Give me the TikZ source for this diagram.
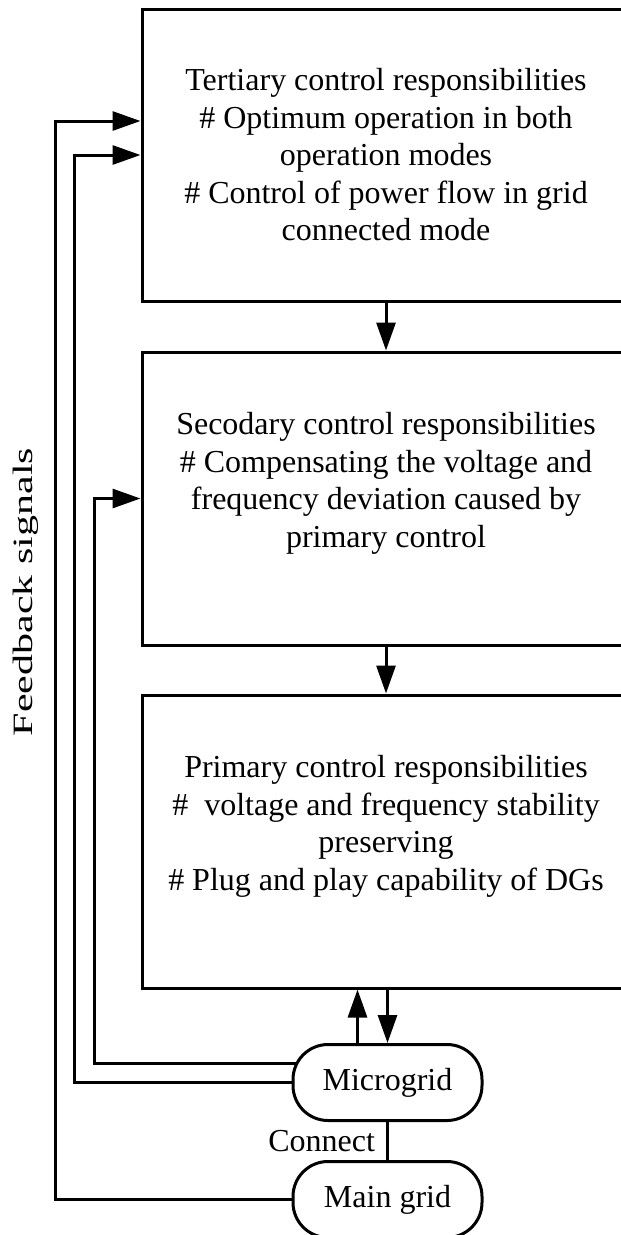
\documentclass[tikz,border=0pt]{standalone}
\usepackage{fontspec}
\usepackage{graphicx}
\setmainfont{Liberation Serif}
\usetikzlibrary{arrows.meta,calc}

\tikzset{
  every node/.style={font=\fontsize{32}{37.5}\selectfont},
  stage/.style={draw, line width=3pt, minimum width=488pt, minimum height=293pt,
    align=center, inner sep=0pt},
  pill/.style={draw, line width=3pt, rounded corners=35pt, minimum width=189pt,
    minimum height=76pt, inner sep=0pt},
  wire/.style={line width=3pt},
  arr/.style={wire, -{Triangle[length=28pt,width=19pt]}},
}

\begin{document}
\begin{tikzpicture}[x=1pt,y=-1pt]
  \useasboundingbox (0,0) rectangle (621,1235);
  \clip (0,0) rectangle (621,1235);

  % control layers
  \node[stage, minimum height=292pt] (tert) at (386,155) {Tertiary control responsibilities\\
    \# Optimum operation in both\\ operation modes\\
    \# Control of power flow in grid\\ connected mode};
  \node[stage] (sec) at (386,498.5) {Secodary control responsibilities\\
    \# Compensating the voltage and\\ frequency deviation caused by\\
    primary control\\ \mbox{}};
  \node[stage] (prim) at (386,841.5) {Primary control responsibilities\\
    \#~ voltage and frequency stability\\ preserving\\
    \# Plug and play capability of DGs\\ \mbox{}};

  % plant
  \node[pill] (micro) at (387.5,1082.5) {Microgrid};
  \node[pill] (main) at (387.5,1199.5) {Main grid};

  % downward command flow
  \draw[arr] (tert.south) -- (sec.north);
  \draw[arr] (sec.south) -- (prim.north);
  \draw[arr] (prim.south -| micro.north) -- (micro.north);
  \coordinate (upfoot) at ($(micro.north)+(-30,0)$);
  \draw[arr] (upfoot) -- (upfoot |- prim.south);

  % grid connection
  \draw[wire] (micro.south) -- node[left=11pt, inner sep=0pt] {Connect} (main.north);

  % feedback paths
  \coordinate (colA) at (94,0);
  \coordinate (colB) at (74,0);
  \coordinate (colC) at (55,0);
  \coordinate (fbA) at ($(micro.west)+(5,-19.5)$);
  \coordinate (tertA) at ($(tert.west)+(0,-34)$);
  \draw[arr] (fbA) -| (colA |- sec.west) -- (sec.west);
  \draw[arr] (micro.west) -| (colB |- tert.west) -- (tert.west);
  \draw[arr] (main.west) -| (colC |- tertA) -- (tertA);

  \node[rotate=90, font=\fontsize{28}{32}\selectfont] (fbl) at (26,592)
    {\scalebox{1.5}[1]{Feedback signals}};
\end{tikzpicture}
\end{document}
